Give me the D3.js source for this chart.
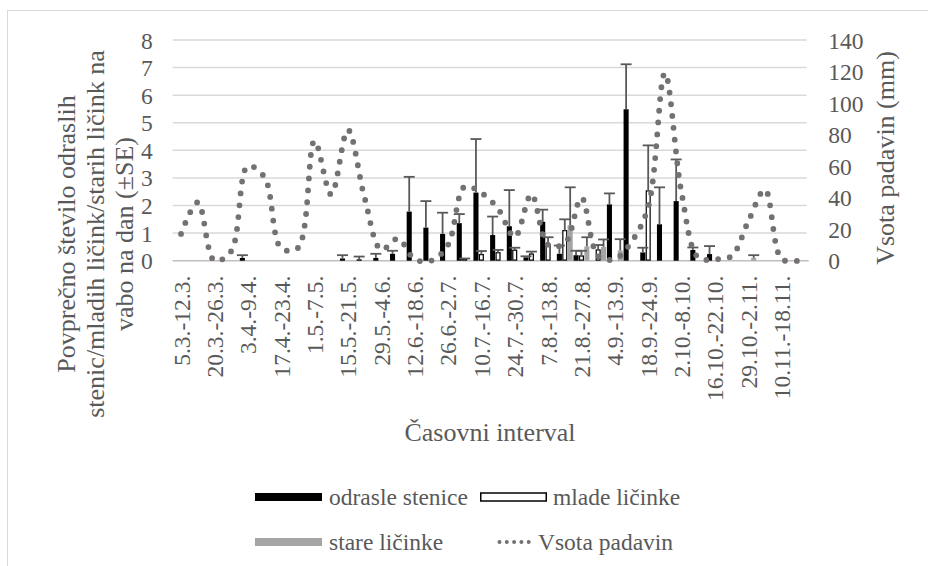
<!DOCTYPE html>
<html>
<head>
<meta charset="utf-8">
<script src="https://cdn.jsdelivr.net/npm/d3@7"></script>
<style>
body { margin: 0; background: #fff; }
</style>
</head>
<body>
<div id="chart"></div>
<script>
// casovni intervali (38 tednov, oznacen vsak drugi)
const categories = [
  "5.3.-12.3.", "13.3.-19.3.", "20.3.-26.3.", "27.3.-2.4.", "3.4.-9.4.", "10.4.-16.4.",
  "17.4.-23.4.", "24.4.-30.4.", "1.5.-7.5.", "8.5.-14.5.", "15.5.-21.5.", "22.5.-28.5.",
  "29.5.-4.6.", "5.6.-11.6.", "12.6.-18.6.", "19.6.-25.6.", "26.6.-2.7.", "3.7.-9.7.",
  "10.7.-16.7.", "17.7.-23.7.", "24.7.-30.7.", "31.7.-6.8.", "7.8.-13.8.", "14.8.-20.8.",
  "21.8.-27.8.", "28.8.-3.9.", "4.9.-13.9.", "14.9.-17.9.", "18.9.-24.9.", "25.9.-1.10.",
  "2.10.-8.10.", "9.10.-15.10.", "16.10.-22.10.", "23.10.-28.10.", "29.10.-2.11.", "3.11.-9.11.",
  "10.11.-18.11.", "19.11.-25.11."
];
const tickLabels = categories.filter((c, i) => i % 2 === 0);

const seriesNames = ["odrasle stenice", "mlade ličinke", "stare ličinke"];

const odrasle = [null, null, null, null, 0.1, null, null, null, null, null, 0.08, 0.05, 0.1, 0.25, 1.78, 1.2, 0.97, 1.36, 2.47, 0.93, 1.25, 0.12, 1.41, 0.25, 0.2, null, 2.04, 5.49, 0.3, 1.32, 2.16, 0.39, 0.24, null, null, null, null, null];
const odrasleSE = [null, null, null, null, 0.1, null, null, null, null, null, 0.12, 0.1, 0.15, 0.11, 1.26, 0.96, 0.77, 0.33, 1.94, 0.67, 1.31, 0.04, 0.44, 0.3, 0.16, null, 0.4, 1.63, 0.17, 1.34, 1.51, 0.09, 0.29, null, null, null, null, null];

const mlade = [null, null, null, null, null, null, null, null, null, null, null, null, null, null, null, null, null, 0.04, 0.22, 0.29, 0.38, 0.24, 0.6, 1.09, 0.17, 0.39, null, null, 2.53, null, null, null, null, null, null, null, null, null];
const mladeSE = [null, null, null, null, null, null, null, null, null, null, null, null, null, null, null, null, null, 0.04, 0.13, 0.1, 0.09, 0.09, 0.25, 0.41, 0.19, 0.18, null, null, 1.65, null, null, null, null, null, null, null, null, null];

const stare = [null, null, null, null, null, null, null, null, null, null, null, null, null, null, null, null, null, null, null, null, null, null, null, 1.29, 0.52, 0.5, 0.37, null, null, null, null, null, null, null, 0.1, null, null, null];
const stareSE = [null, null, null, null, null, null, null, null, null, null, null, null, null, null, null, null, null, null, null, null, null, null, null, 1.37, 0.33, 0.27, 0.41, null, null, null, null, null, null, null, 0.1, null, null, null];

// vsota padavin (mm)
const padavine = [17, 37, 0, 6, 60, 53, 8, 8, 76, 42, 83, 40, 7, 14, 1, 0, 10, 47, 43, 33, 15, 42, 10, 11, 40, 3, 1, 12, 34, 119, 43, 2, 1, 3, 25, 45, 1, 0];

const leftTicks = [0, 1, 2, 3, 4, 5, 6, 7, 8];
const rightTicks = [0, 20, 40, 60, 80, 100, 120, 140];

const width = 928, height = 566;
const plot = { left: 172.7, right: 806.7, top: 40, bottom: 260.7 };
const fontTick = 23.5, fontTitle = 26;
const serif = "Liberation Serif";
const textColor = "#595959";

const svg = d3.select("#chart").append("svg")
  .attr("width", width)
  .attr("height", height)
  .attr("font-family", serif);

svg.append("rect")
  .attr("x", 7.5).attr("y", 10.5)
  .attr("width", 1000).attr("height", 1000)
  .attr("fill", "#fff")
  .attr("stroke", "#d9d9d9");

const x0 = d3.scaleBand().domain(categories).range([plot.left, plot.right]).padding(0);
const x1 = d3.scaleBand().domain(seriesNames).range([0.4, x0.bandwidth() - 0.4]).paddingInner(0.06);
const yL = d3.scaleLinear().domain([0, 8]).range([plot.bottom, plot.top]);
const yR = d3.scaleLinear().domain([0, 140]).range([plot.bottom, plot.top]);

// mreza
svg.append("g")
  .selectAll("line")
  .data(leftTicks.slice(1))
  .join("line")
  .attr("x1", plot.left).attr("x2", plot.right)
  .attr("y1", d => yL(d)).attr("y2", d => yL(d))
  .attr("stroke", "#d9d9d9")
  .attr("stroke-width", 1.5);

svg.append("line")
  .attr("x1", plot.left).attr("x2", plot.right + 2)
  .attr("y1", yL(0)).attr("y2", yL(0))
  .attr("stroke", "#bfbfbf")
  .attr("stroke-width", 1.5);

function styleAxis(g) {
  g.select(".domain").remove();
  g.attr("font-family", serif);
  g.selectAll("text")
    .attr("font-family", serif)
    .attr("font-size", fontTick)
    .attr("fill", textColor);
}

// leva os
const leftAxis = svg.append("g")
  .attr("transform", `translate(${plot.left},0)`)
  .call(d3.axisLeft(yL).tickValues(leftTicks).tickSize(0).tickPadding(20))
  .call(styleAxis);
leftAxis.selectAll("text").attr("dy", "0.34em");

// desna os
const rightAxis = svg.append("g")
  .attr("transform", `translate(${plot.right},0)`)
  .call(d3.axisRight(yR).tickValues(rightTicks).tickSize(0).tickPadding(21.6))
  .call(styleAxis);
rightAxis.selectAll("text").attr("dy", "0.34em");

// kategorije
const bottomAxis = svg.append("g")
  .attr("transform", `translate(0,${plot.bottom})`)
  .call(d3.axisBottom(x0).tickValues(tickLabels).tickSize(0))
  .call(styleAxis);
bottomAxis.selectAll("text")
  .attr("transform", "rotate(-90)")
  .attr("text-anchor", "end")
  .attr("x", -15)
  .attr("y", 0)
  .attr("dy", "0.36em");

// stolpci
const series = [
  { name: seriesNames[0], values: odrasle, se: odrasleSE, fill: "#000000", stroke: "none" },
  { name: seriesNames[1], values: mlade, se: mladeSE, fill: "#ffffff", stroke: "#000000" },
  { name: seriesNames[2], values: stare, se: stareSE, fill: "#a5a5a5", stroke: "none" }
];

series.forEach(s => {
  const pts = categories.map((c, i) => ({ c, v: s.values[i], e: s.se[i] })).filter(d => d.v !== null);
  const inset = s.stroke === "none" ? 0 : 0.6;
  svg.append("g")
    .selectAll("rect")
    .data(pts)
    .join("rect")
    .attr("x", d => x0(d.c) + x1(s.name) + inset)
    .attr("width", x1.bandwidth() - 2 * inset)
    .attr("y", d => yL(d.v))
    .attr("height", d => Math.max(0, yL(0) - yL(d.v) - inset))
    .attr("fill", s.fill)
    .attr("stroke", s.stroke)
    .attr("stroke-width", 1.2);
  s.pts = pts;
});

// napake (+SE)
series.forEach(s => {
  const g = svg.append("g").attr("stroke", "#595959").attr("stroke-width", 1.8);
  const cx = d => x0(d.c) + x1(s.name) + x1.bandwidth() / 2;
  const eb = s.pts.filter(d => d.e !== null);
  g.selectAll("line.v")
    .data(eb)
    .join("line")
    .attr("class", "v")
    .attr("x1", cx).attr("x2", cx)
    .attr("y1", d => yL(d.v)).attr("y2", d => yL(d.v + d.e));
  g.selectAll("line.c")
    .data(eb)
    .join("line")
    .attr("class", "c")
    .attr("x1", d => cx(d) - 5.5).attr("x2", d => cx(d) + 5.5)
    .attr("y1", d => yL(d.v + d.e)).attr("y2", d => yL(d.v + d.e));
});

// padavine (zglajena crta)
const line = d3.line()
  .x((d, i) => x0(categories[i]) + x0.bandwidth() / 2)
  .y(d => yR(d))
  .curve(d3.curveCatmullRom.alpha(0.5));

svg.append("path")
  .datum(padavine)
  .attr("d", line)
  .attr("fill", "none")
  .attr("stroke", "#757171")
  .attr("stroke-width", 5.8)
  .attr("stroke-linecap", "round")
  .attr("stroke-dasharray", "0 11.8");

// naslovi osi
const leftTitle = ["Povprečno število odraslih", "stenic/mladih ličink/starih ličink na", "vabo na dan (±SE)"];
svg.append("g")
  .selectAll("text")
  .data(leftTitle)
  .join("text")
  .attr("transform", (d, i) => `translate(${75 + i * 29},234) rotate(-90)`)
  .attr("text-anchor", "middle")
  .attr("font-family", serif)
  .attr("font-size", fontTitle)
  .attr("fill", textColor)
  .text(d => d);

svg.append("text")
  .attr("transform", "translate(894,158) rotate(-90)")
  .attr("text-anchor", "middle")
  .attr("font-family", serif)
  .attr("font-size", fontTitle)
  .attr("fill", textColor)
  .text("Vsota padavin (mm)");

svg.append("text")
  .attr("x", 490).attr("y", 441)
  .attr("text-anchor", "middle")
  .attr("font-family", serif)
  .attr("font-size", fontTitle)
  .attr("fill", textColor)
  .text("Časovni interval");

// legenda
const legend = svg.append("g");
const legendItems = [
  { name: seriesNames[0], kind: "rect", fill: "#000", stroke: "none", x: 255, y: 497, tx: 329 },
  { name: seriesNames[1], kind: "rect", fill: "#fff", stroke: "#000", x: 480, y: 497, tx: 553 },
  { name: seriesNames[2], kind: "rect", fill: "#a5a5a5", stroke: "none", x: 255, y: 542, tx: 329 },
  { name: "Vsota padavin", kind: "line", x: 499.5, y: 542, tx: 538 }
];
legendItems.forEach(it => {
  if (it.kind === "rect") {
    const inset = it.stroke === "none" ? 0 : 0.75;
    legend.append("rect")
      .attr("x", it.x + inset)
      .attr("y", it.y - 4)
      .attr("width", 67 - 2 * inset)
      .attr("height", 8)
      .attr("fill", it.fill)
      .attr("stroke", it.stroke)
      .attr("stroke-width", 1.5);
  } else {
    legend.append("line")
      .attr("x1", it.x).attr("x2", it.x + 36.5)
      .attr("y1", it.y).attr("y2", it.y)
      .attr("stroke", "#757171")
      .attr("stroke-width", 4)
      .attr("stroke-linecap", "round")
      .attr("stroke-dasharray", "0 7.3");
  }
  legend.append("text")
    .attr("x", it.tx)
    .attr("y", it.y + 7.5)
    .attr("font-family", serif)
    .attr("font-size", fontTick)
    .attr("fill", textColor)
    .text(it.name);
});
</script>
</body>
</html>
